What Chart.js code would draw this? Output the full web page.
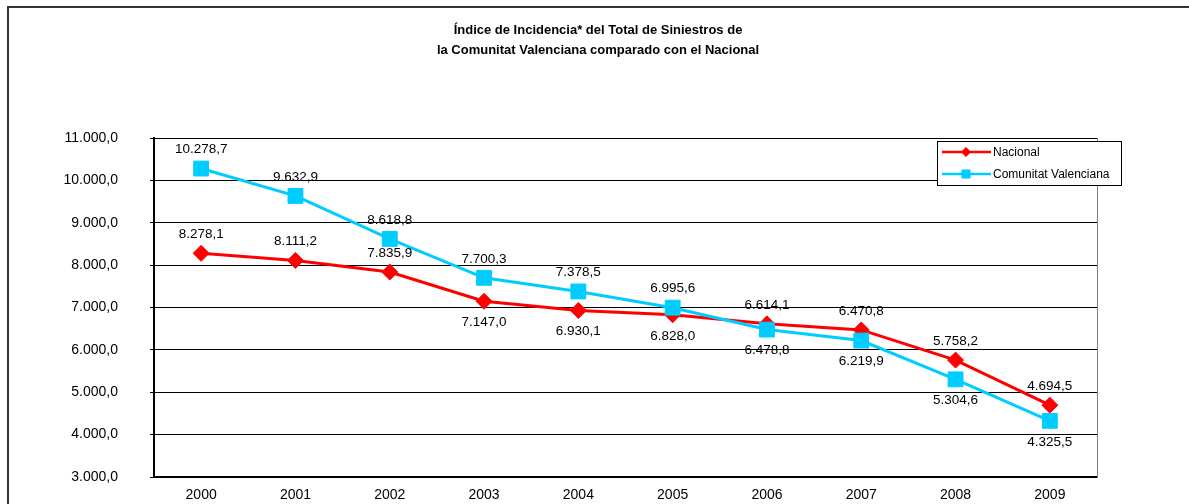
<!DOCTYPE html>
<html>
<head>
<meta charset="utf-8">
<script src="https://cdn.jsdelivr.net/npm/chart.js@4"></script>
<style>
    html, body { margin: 0; padding: 0; background: #fff; }
    #wrap { position: relative; width: 1189px; height: 504px; }
</style>
</head>
<body>
<div id="wrap"><canvas id="chart" width="1189" height="504"></canvas></div>
<script>
// chart values
const years = ['2000', '2001', '2002', '2003', '2004', '2005', '2006', '2007', '2008', '2009'];
const nacional = [8278.1, 8111.2, 7835.9, 7147.0, 6930.1, 6828.0, 6614.1, 6470.8, 5758.2, 4694.5];
const valenciana = [10278.7, 9632.9, 8618.8, 7700.3, 7378.5, 6995.6, 6478.8, 6219.9, 5304.6, 4325.5];
const titleLines = ['Índice de Incidencia* del Total de Siniestros de', 'la Comunitat Valenciana comparado con el Nacional'];
const seriesNames = ['Nacional', 'Comunitat Valenciana'];
// where each value label sits relative to its point
const nacionalLabelSide = ['up', 'up', 'up', 'down', 'down', 'down', 'up', 'up', 'up', 'up'];
const valencianaLabelSide = ['up', 'up', 'up', 'up', 'up', 'up', 'down', 'down', 'down', 'down'];

const FONT = '"Liberation Sans", Arial, sans-serif';
const RED = '#ff0000';
const CYAN = '#00ccff';

// 10278.7 -> "10.278,7"
function fmt(v) {
    const parts = v.toFixed(1).split('.');
    const intPart = parts[0].replace(/\B(?=(\d{3})+(?!\d))/g, '.');
    return intPart + ',' + parts[1];
}

const framePlugin = {
    id: 'frame',
    beforeDraw(chart) {
        const ctx = chart.ctx;
        ctx.save();
        // outer border (only top and left visible)
        ctx.strokeStyle = '#333';
        ctx.lineWidth = 2;
        ctx.beginPath();
        ctx.moveTo(8, 504);
        ctx.lineTo(8, 7);
        ctx.lineTo(1189, 7);
        ctx.stroke();

        // title
        ctx.fillStyle = '#000';
        ctx.font = 'bold 13px ' + FONT;
        ctx.textAlign = 'center';
        ctx.textBaseline = 'middle';
        ctx.fillText(titleLines[0], 598, 30);
        ctx.fillText(titleLines[1], 598, 50);
        ctx.restore();
    },
    beforeDatasetsDraw(chart) {
        const a = chart.chartArea;
        const ctx = chart.ctx;
        ctx.save();
        ctx.strokeStyle = '#808080';
        ctx.lineWidth = 1;
        ctx.beginPath();
        ctx.moveTo(a.right + 0.5, a.top);
        ctx.lineTo(a.right + 0.5, a.bottom);
        ctx.stroke();
        ctx.restore();
    }
};

const valueLabels = {
    id: 'valueLabels',
    afterDatasetsDraw(chart) {
        const ctx = chart.ctx;
        const sides = [nacionalLabelSide, valencianaLabelSide];
        ctx.save();
        ctx.fillStyle = '#000';
        ctx.font = '13.5px ' + FONT;
        ctx.textAlign = 'center';
        ctx.textBaseline = 'middle';
        chart.data.datasets.forEach((ds, i) => {
            const meta = chart.getDatasetMeta(i);
            meta.data.forEach((pt, j) => {
                const dy = sides[i][j] === 'up' ? -19 : 21;
                ctx.fillText(fmt(ds.data[j]), pt.x, pt.y + dy);
            });
        });
        ctx.restore();
    }
};

const boxLegend = {
    id: 'boxLegend',
    afterDraw(chart) {
        const ctx = chart.ctx;
        const x = 937, y = 141, w = 184, h = 44;
        ctx.save();
        ctx.fillStyle = '#fff';
        ctx.fillRect(x, y, w, h);
        ctx.strokeStyle = '#000';
        ctx.lineWidth = 1;
        ctx.strokeRect(x + 0.5, y + 0.5, w, h);

        const rows = [152, 174];
        chart.data.datasets.forEach((ds, i) => {
            const ry = rows[i];
            ctx.strokeStyle = ds.borderColor;
            ctx.lineWidth = 2.5;
            ctx.beginPath();
            ctx.moveTo(942, ry);
            ctx.lineTo(991, ry);
            ctx.stroke();
            ctx.fillStyle = ds.borderColor;
            ctx.beginPath();
            if (ds.pointStyle === 'rectRot') {
                ctx.moveTo(966, ry - 5);
                ctx.lineTo(971, ry);
                ctx.lineTo(966, ry + 5);
                ctx.lineTo(961, ry);
                ctx.closePath();
            } else {
                ctx.rect(961.5, ry - 4.5, 9, 9);
            }
            ctx.fill();
            ctx.fillStyle = '#000';
            ctx.font = '12px ' + FONT;
            ctx.textAlign = 'left';
            ctx.textBaseline = 'middle';
            ctx.fillText(seriesNames[i], 993, ry + 1);
        });
        ctx.restore();
    }
};

const ctx = document.getElementById('chart').getContext('2d');
new Chart(ctx, {
    type: 'line',
    data: {
        labels: years,
        datasets: [{
            label: seriesNames[0],
            data: nacional,
            borderColor: RED,
            backgroundColor: RED,
            borderWidth: 3,
            pointStyle: 'rectRot',
            pointRadius: 8,
            pointBorderWidth: 1,
            tension: 0,
            order: 1
        }, {
            label: seriesNames[1],
            data: valenciana,
            borderColor: CYAN,
            backgroundColor: CYAN,
            borderWidth: 3,
            pointStyle: 'rect',
            pointRadius: 10.5,
            pointBorderWidth: 1,
            tension: 0,
            order: 0
        }]
    },
    options: {
        responsive: false,
        animation: false,
        layout: {
            padding: { top: 138, right: 92, left: 0, bottom: 0 }
        },
        plugins: {
            legend: { display: false },
            title: { display: false },
            tooltip: { enabled: false }
        },
        scales: {
            x: {
                offset: true,
                grid: { display: false, drawTicks: false },
                border: { display: true, color: '#000', width: 1.5 },
                ticks: { color: '#000', font: { family: FONT, size: 14 }, padding: 10, maxRotation: 0 },
                afterFit(scale) { scale.height = 27; }
            },
            y: {
                min: 3000,
                max: 11000,
                ticks: {
                    stepSize: 1000,
                    color: '#000',
                    font: { family: FONT, size: 14 },
                    padding: 32,
                    callback: v => fmt(v)
                },
                grid: { color: '#000', lineWidth: 1, tickLength: 4, drawTicks: true },
                border: { display: true, color: '#000', width: 2 },
                afterFit(scale) {
                    scale.width = 154;
                    // the big label padding should not push the plot area
                    scale.paddingTop = 0;
                    scale.paddingBottom = 0;
                }
            }
        }
    },
    plugins: [framePlugin, valueLabels, boxLegend]
});
</script>
</body>
</html>
